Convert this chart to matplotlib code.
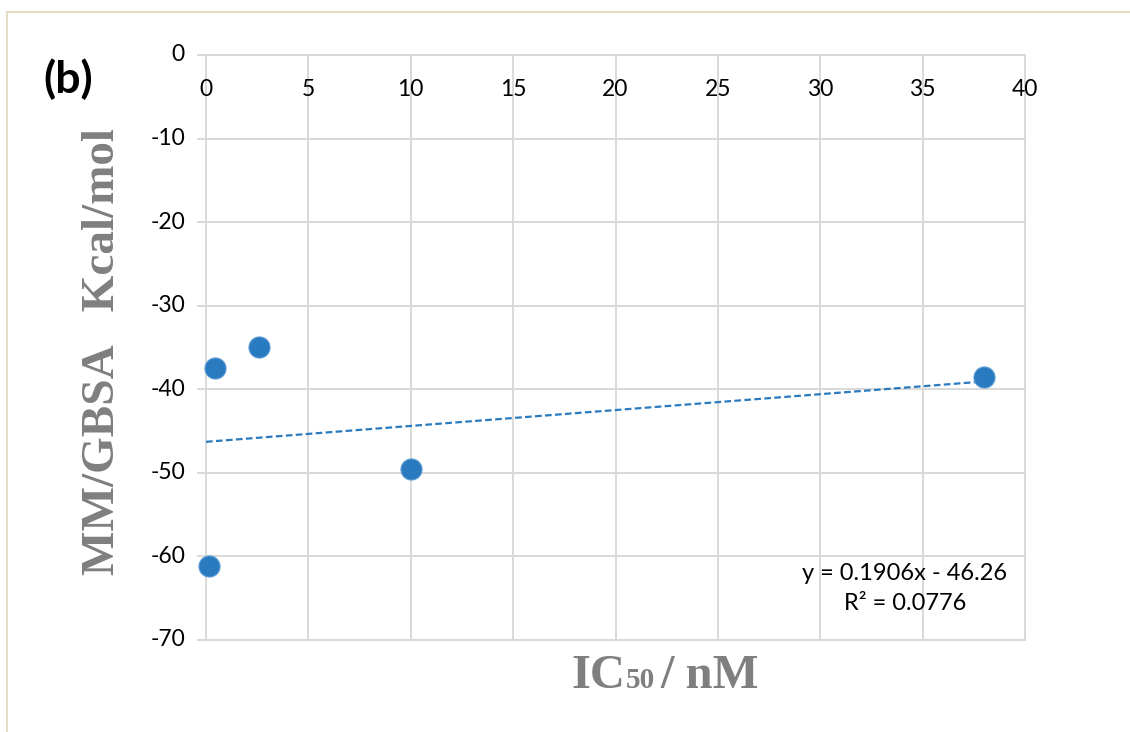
import numpy as np
import matplotlib
matplotlib.use("Agg")
import matplotlib.pyplot as plt
from matplotlib.lines import Line2D
from matplotlib.offsetbox import TextArea, HPacker, AnnotationBbox

# data
ic50 = [0.15, 0.44, 2.6, 10.0, 38.0]
mmgbsa = [-61.2, -37.5, -35.0, -49.5, -38.5]
x_ticks = [0, 5, 10, 15, 20, 25, 30, 35, 40]
y_ticks = [0, -10, -20, -30, -40, -50, -60, -70]
eq_text = "y = 0.1906x - 46.26"
r2_text = "R² = 0.0776"

blue = "#2a7abf"
grid_c = "#d9d9d9"
label_c = "#7f7f7f"
tick_font = "Lato"

fig = plt.figure(figsize=(11.3, 7.32), dpi=100)
ax = fig.add_axes([206/1130, 1-640/732, (1025-206)/1130, (640-55)/732])
ax.set_xlim(0, 40)
ax.set_ylim(-70, 0)
for s in ax.spines.values():
    s.set_visible(False)
ax.set_xticks([])
ax.set_yticks([])

# gridlines (Excel style, horizontal ones stick out a bit on the left)
for t in x_ticks:
    ax.plot([t, t], [-70, 0], color=grid_c, lw=1.4, zorder=1, clip_on=False)
for t in y_ticks:
    ax.plot([-0.4, 40], [t, t], color=grid_c, lw=1.4, zorder=1, clip_on=False)

# tick labels
for t in x_ticks:
    ax.annotate(str(t), (t, 0), xytext=(0, -35), textcoords="offset pixels",
                ha="center", va="center", fontsize=16.5, family=tick_font, color="black")
for t in y_ticks:
    ax.annotate(str(t), (0, t), xytext=(-21, 0), textcoords="offset pixels",
                ha="right", va="center", fontsize=16.5, family=tick_font, color="black")

# trendline
k, b = np.polyfit(ic50, mmgbsa, 1)
xs = np.array([0, max(ic50)])
ax.plot(xs, k*xs + b, color=blue, lw=1.6, ls=(0, (3, 1.5)), zorder=2)

ax.scatter(ic50, mmgbsa, s=230, color=blue, edgecolor="#5b9bd5", linewidth=0.8, zorder=3, clip_on=False)

fig.text(905/1130, 1-573/732, eq_text, ha="center", va="center", fontsize=17, family=tick_font)
fig.text(905/1130, 1-604/732, r2_text, ha="center", va="center", fontsize=17, family=tick_font)

# panel tag and axis titles
fig.text(68/1130, 1-79/732, "(b)", ha="center", va="center", fontsize=32,
         family=tick_font, fontweight="bold")
fig.text(103/1130, 1-352/732, "MM/GBSA   Kcal/mol", rotation=90, ha="center", va="center",
         fontsize=34, family="Liberation Serif", fontweight="bold", color=label_c)

big = dict(fontsize=35, family="Liberation Serif", fontweight="bold", color=label_c)
small = dict(fontsize=21, family="Liberation Serif", fontweight="bold", color=label_c)
ic = HPacker(children=[TextArea("IC", textprops=big), TextArea("50", textprops=small)],
             align="baseline", pad=0, sep=0)
xlab = HPacker(children=[ic, TextArea("/ nM", textprops=big)], align="baseline", pad=0, sep=4)
fig.add_artist(AnnotationBbox(xlab, (665/1130, 1-676/732), xycoords="figure fraction",
                              frameon=False, box_alignment=(0.5, 0.5)))

# frame around the figure (top and left visible)
fig.add_artist(Line2D([7/1130, 1], [1-12/732, 1-12/732], color="#e3dcc6", lw=1.5))
fig.add_artist(Line2D([7/1130, 7/1130], [0, 1-12/732], color="#e3dcc6", lw=1.5))

fig.savefig("out.png", dpi=100)
